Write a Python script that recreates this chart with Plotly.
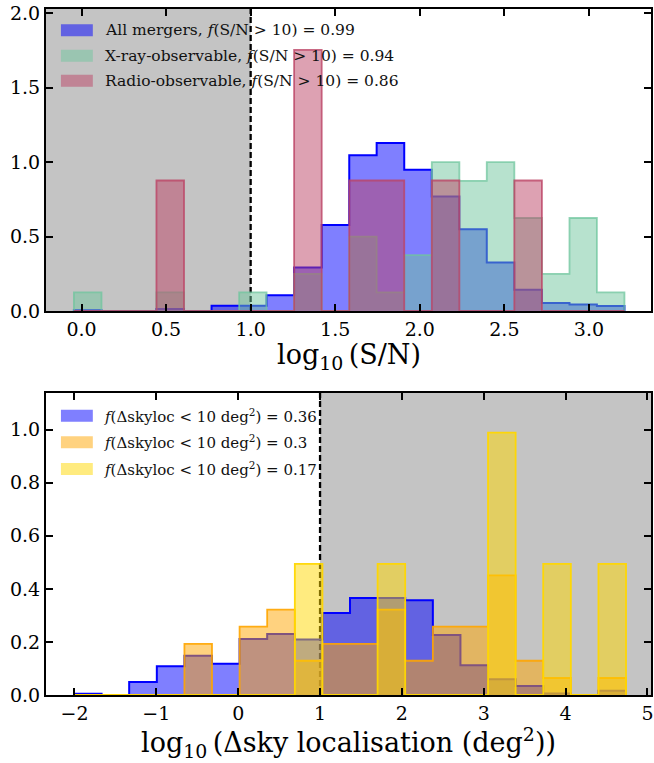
import plotly.graph_objects as go

# ---------------- data ----------------
snr_edges = [-0.045, 0.118, 0.281, 0.443, 0.606, 0.769, 0.932, 1.094, 1.257, 1.420,
             1.583, 1.745, 1.908, 2.071, 2.234, 2.396, 2.559, 2.722, 2.885, 3.047, 3.210]
snr_all = [0.005, 0.0, 0.0, 0.013, 0.0, 0.035, 0.035, 0.105, 0.292, 0.578,
           1.047, 1.129, 0.949, 0.770, 0.549, 0.326, 0.143, 0.053, 0.044, 0.033]
snr_xray = [0.125, 0.0, 0.0, 0.125, 0.0, 0.0, 0.125, 0.0, 0.25, 0.0,
            0.5, 0.125, 0.375, 1.0, 0.875, 1.0, 0.625, 0.25, 0.625, 0.125]
snr_radio = [0.0, 0.0, 0.0, 0.877, 0.0, 0.0, 0.0, 0.0, 1.755, 0.0,
             0.877, 0.877, 0.0, 0.877, 0.0, 0.0, 0.877, 0.0, 0.0, 0.0]
snr_labels = ["All mergers, <i>f</i>(S/N &gt; 10) = 0.99",
              "X-ray-observable, <i>f</i>(S/N &gt; 10) = 0.94",
              "Radio-observable, <i>f</i>(S/N &gt; 10) = 0.86"]

sky_edges = [-2.006, -1.669, -1.332, -0.994, -0.657, -0.320, 0.017, 0.354, 0.692, 1.029,
             1.366, 1.703, 2.040, 2.378, 2.715, 3.052, 3.389, 3.726, 4.064, 4.401, 4.738]
sky_all = [0.005, 0.0, 0.049, 0.108, 0.148, 0.118, 0.211, 0.230, 0.209, 0.309,
           0.366, 0.366, 0.357, 0.226, 0.112, 0.059, 0.034, 0.006, 0.0, 0.016]
sky_xray = [0.0, 0.0, 0.0, 0.0, 0.193, 0.0, 0.258, 0.322, 0.129, 0.193,
            0.193, 0.322, 0.129, 0.258, 0.258, 0.451, 0.129, 0.064, 0.0, 0.064]
sky_radio = [0.0, 0.0, 0.0, 0.0, 0.0, 0.0, 0.0, 0.0, 0.494, 0.0,
             0.0, 0.494, 0.0, 0.0, 0.0, 0.989, 0.0, 0.494, 0.0, 0.494]
sky_labels = ["<i>f</i>(Δskyloc &lt; 10 deg<sup>2</sup>) = 0.36",
              "<i>f</i>(Δskyloc &lt; 10 deg<sup>2</sup>) = 0.3",
              "<i>f</i>(Δskyloc &lt; 10 deg<sup>2</sup>) = 0.17"]

snr_xticks = [0.0, 0.5, 1.0, 1.5, 2.0, 2.5, 3.0]
snr_yticks = [0.0, 0.5, 1.0, 1.5, 2.0]
sky_xticks = [-2, -1, 0, 1, 2, 3, 4, 5]
sky_yticks = [0.0, 0.2, 0.4, 0.6, 0.8, 1.0]
threshold = 1.0

# ---------------- style ----------------
FONT = "DejaVu Serif"
BLUE_FILL, BLUE_LINE = "rgba(0,0,255,0.5)", "rgba(0,0,255,1)"
GREEN_FILL, GREEN_LINE = "rgba(111,197,157,0.5)", "rgba(111,197,157,0.75)"
RED_FILL, RED_LINE = "rgba(187,67,101,0.5)", "rgba(187,67,101,0.8)"
ORANGE_FILL, ORANGE_LINE = "rgba(255,165,0,0.5)", "rgba(255,165,0,0.9)"
GOLD_FILL, GOLD_LINE = "rgba(255,215,0,0.5)", "rgba(255,215,0,0.95)"
GREY = "#c4c4c4"

TOP_RANGE_X = [-0.21, 3.367]
TOP_RANGE_Y = [0, 2.03]
BOT_RANGE_X = [-2.348, 5.043]
BOT_RANGE_Y = [0, 1.138]


def step_xy(edges, values):
    xs, ys = [edges[0]], [0.0]
    for i, v in enumerate(values):
        xs += [edges[i], edges[i + 1]]
        ys += [v, v]
    xs.append(edges[-1])
    ys.append(0.0)
    return xs, ys


fig = go.Figure()


def add_hist(edges, vals, fill, line, width, xa, ya):
    xs, ys = step_xy(edges, vals)
    fig.add_trace(go.Scatter(x=xs, y=ys, mode="lines", fill="toself", fillcolor=fill,
                             line=dict(color=line, width=width), xaxis=xa, yaxis=ya,
                             showlegend=False, hoverinfo="skip"))


add_hist(snr_edges, snr_all, BLUE_FILL, BLUE_LINE, 2, "x", "y")
add_hist(snr_edges, snr_xray, GREEN_FILL, GREEN_LINE, 1.8, "x", "y")
add_hist(snr_edges, snr_radio, RED_FILL, RED_LINE, 1.8, "x", "y")

add_hist(sky_edges, sky_all, BLUE_FILL, BLUE_LINE, 2, "x2", "y2")
add_hist(sky_edges, sky_xray, ORANGE_FILL, ORANGE_LINE, 1.8, "x2", "y2")
add_hist(sky_edges, sky_radio, GOLD_FILL, GOLD_LINE, 1.8, "x2", "y2")

shapes = []
# shaded regions
shapes.append(dict(type="rect", xref="x", yref="y domain", x0=TOP_RANGE_X[0], x1=threshold,
                   y0=0, y1=1, fillcolor=GREY, line=dict(width=0), layer="below"))
shapes.append(dict(type="rect", xref="x2", yref="y2 domain", x0=threshold, x1=BOT_RANGE_X[1],
                   y0=0, y1=1, fillcolor=GREY, line=dict(width=0), layer="below"))
# dashed threshold lines
for xr, yr in (("x", "y domain"), ("x2", "y2 domain")):
    shapes.append(dict(type="line", xref=xr, yref=yr, x0=threshold, x1=threshold, y0=0, y1=1,
                       line=dict(color="black", width=2.3, dash="6px,3px"), layer="below"))

annotations = []


def add_legend(xdom, ydom, labels, fills, rows_y, text_x, px_h, fsize):
    for lab, fc, yy in zip(labels, fills, rows_y):
        shapes.append(dict(type="rect", xref=xdom, yref=ydom, x0=0.0247, x1=0.0774,
                           y0=yy - px_h, y1=yy + px_h, fillcolor=fc,
                           line=dict(width=0), layer="above"))
        annotations.append(dict(xref=xdom, yref=ydom, x=text_x, y=yy, text=lab,
                                showarrow=False, xanchor="left", yanchor="middle",
                                font=dict(family=FONT, size=fsize, color="#111")))


add_legend("x domain", "y domain", snr_labels, [BLUE_FILL, GREEN_FILL, RED_FILL],
           [0.930, 0.845, 0.7626], 0.095, 0.0199, 15.5)
add_legend("x2 domain", "y2 domain", sky_labels, [BLUE_FILL, ORANGE_FILL, GOLD_FILL],
           [0.9248, 0.8368, 0.7483], 0.092, 0.0199, 15)

# axis titles
annotations.append(dict(xref="x domain", yref="y domain", x=0.5, y=-0.152,
                        text="log<sub>10</sub>\u2009(S/N)", showarrow=False,
                        xanchor="center", yanchor="middle",
                        font=dict(family=FONT, size=27, color="black")))
annotations.append(dict(xref="x2 domain", yref="y2 domain", x=0.5, y=-0.158,
                        text="log<sub>10</sub>\u2009(Δsky localisation (deg<sup>2</sup>))",
                        showarrow=False, xanchor="center", yanchor="middle",
                        font=dict(family=FONT, size=27, color="black")))

axis_common = dict(showline=True, linewidth=2, linecolor="black", mirror="ticks",
                   ticks="inside", ticklen=7, tickwidth=1.5, tickcolor="black",
                   showgrid=False, zeroline=False,
                   tickfont=dict(family=FONT, size=19, color="black"))

fig.update_layout(
    width=654, height=763,
    margin=dict(l=46, r=1, t=9, b=68),
    paper_bgcolor="white", plot_bgcolor="white",
    showlegend=False,
    xaxis=dict(domain=[0, 1], anchor="y", range=TOP_RANGE_X, tickvals=snr_xticks,
               ticktext=[f"{v:.1f}" for v in snr_xticks], **axis_common),
    yaxis=dict(domain=[0.5598, 1.0], anchor="x", range=TOP_RANGE_Y, tickvals=snr_yticks,
               ticktext=[f"{v:.1f}" for v in snr_yticks], **axis_common),
    xaxis2=dict(domain=[0, 1], anchor="y2", range=BOT_RANGE_X, tickvals=sky_xticks,
                ticktext=[(f"\u2212{abs(v)}" if v < 0 else f"{v}") for v in sky_xticks],
                **axis_common),
    yaxis2=dict(domain=[0, 0.4402], anchor="x2", range=BOT_RANGE_Y, tickvals=sky_yticks,
                ticktext=[f"{v:.1f}" for v in sky_yticks], **axis_common),
    shapes=shapes,
    annotations=annotations,
)

fig.write_html("out.html", config={"displayModeBar": False},
               post_script="document.body.style.margin='0px';")
